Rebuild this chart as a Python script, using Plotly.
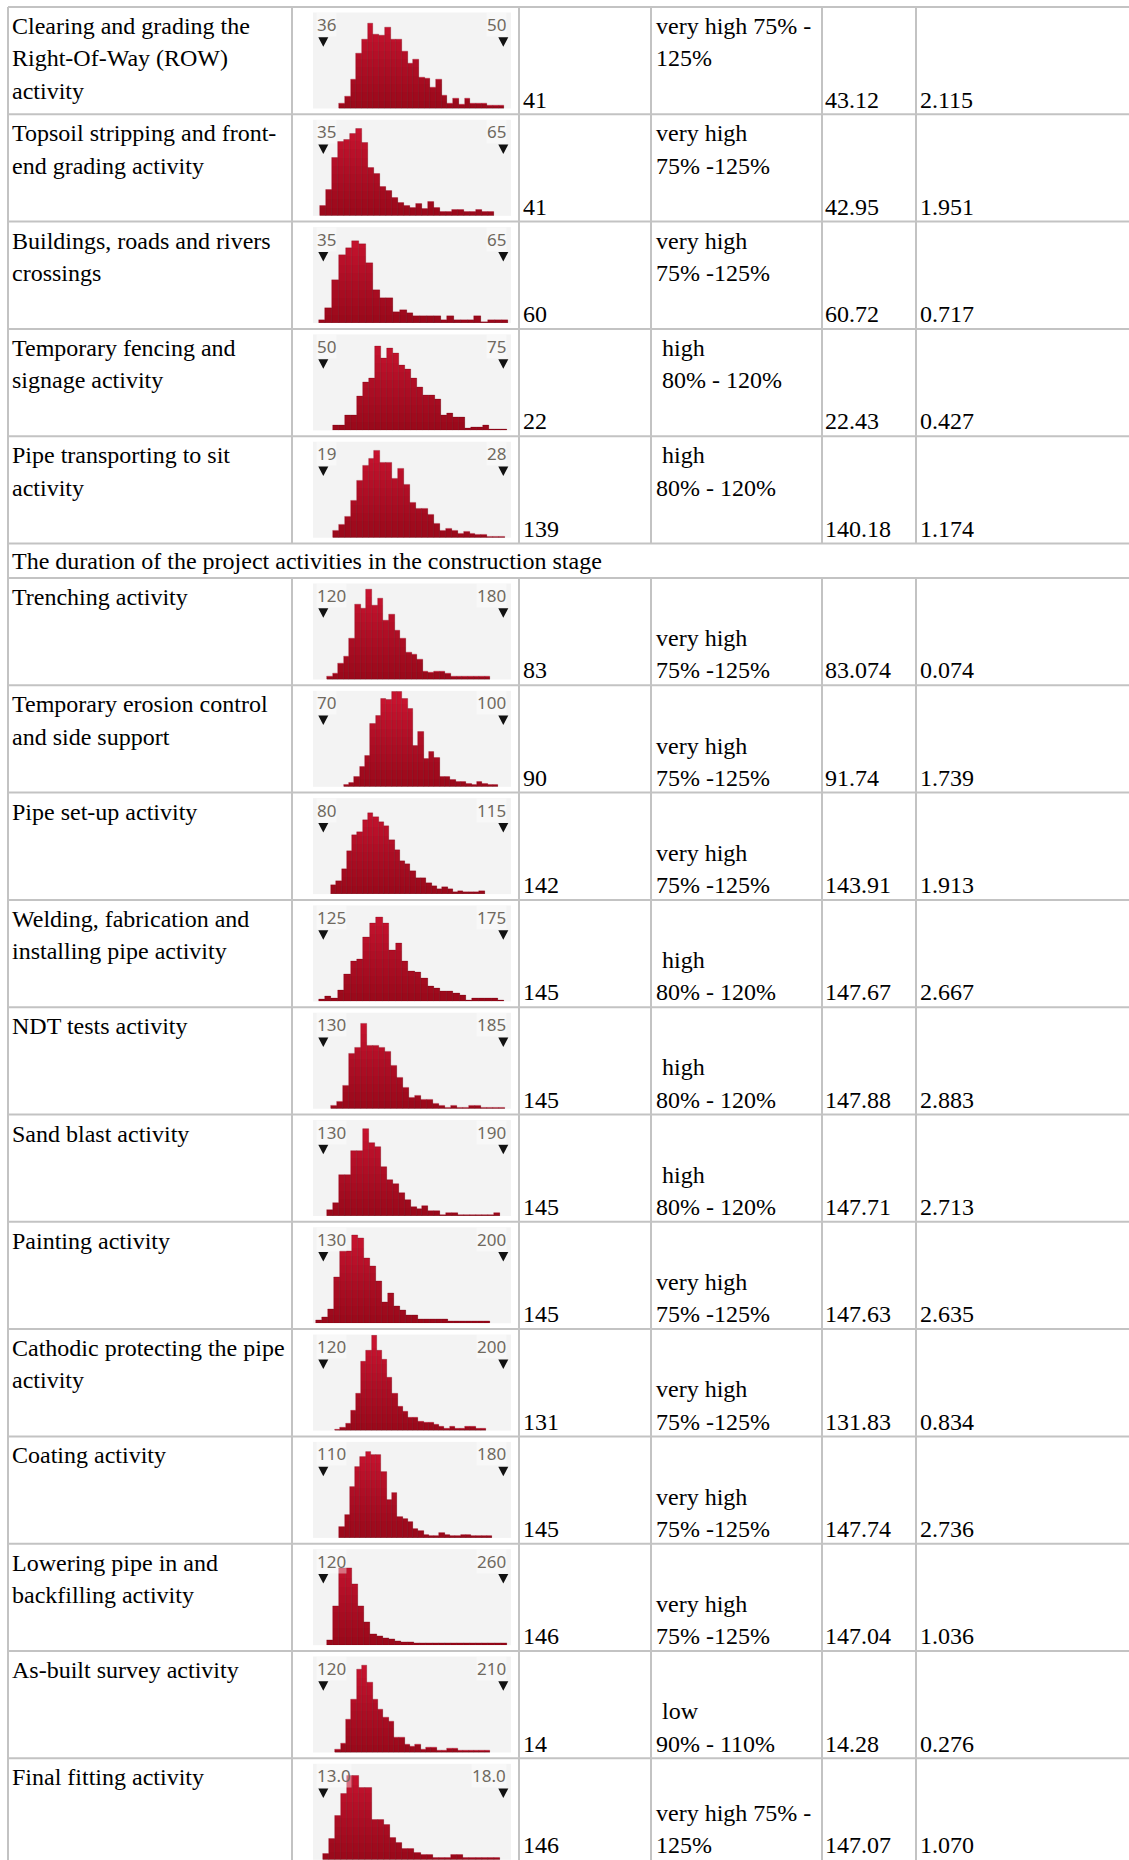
import plotly.graph_objects as go

# ---------------- data ----------------
ACTIVITIES = [
    ["Clearing and grading the", "Right-Of-Way (ROW)", "activity"],
    ["Topsoil stripping and front-", "end grading activity"],
    ["Buildings, roads and rivers", "crossings"],
    ["Temporary fencing and", "signage activity"],
    ["Pipe transporting to sit", "activity"],
    ["Trenching activity"],
    ["Temporary erosion control", "and side support"],
    ["Pipe set-up activity"],
    ["Welding, fabrication and", "installing pipe activity"],
    ["NDT tests activity"],
    ["Sand blast activity"],
    ["Painting activity"],
    ["Cathodic protecting the pipe", "activity"],
    ["Coating activity"],
    ["Lowering pipe in and", "backfilling activity"],
    ["As-built survey activity"],
    ["Final fitting activity"],
]
SECTION_TITLE = "The duration of the project activities in the construction stage"
SECTION_AFTER = 5

HIST_LO_LABEL = ["36", "35", "35", "50", "19", "120", "70", "80", "125", "130",
                 "130", "130", "120", "110", "120", "120", "13.0"]
HIST_HI_LABEL = ["50", "65", "65", "75", "28", "180", "100", "115", "175", "185",
                 "190", "200", "200", "180", "260", "210", "18.0"]
HIST_START = [37.24, 34.5, 34.2, 51.34, 19.48, 121.2, 73.39, 81.49, 123.7, 132.34,
              131.22, 127.28, 125.33, 116.22, 122.85, 126.0, 12.98]
HIST_BINW = [0.443, 1.0, 1.13, 0.833, 0.297, 1.88, 0.889, 1.03, 1.78, 1.83,
             1.99, 2.33, 2.31, 2.05, 4.83, 2.67, 0.170]
HIST_COUNTS = [
    [16, 35, 88, 166, 208, 254, 221, 218, 242, 208, 208, 171, 136, 148, 94, 89, 64, 88, 39, 16, 29, 11, 29, 16, 16, 16, 10, 10, 10],
    [30, 78, 173, 223, 228, 245, 261, 218, 143, 125, 88, 75, 53, 40, 30, 25, 36, 20, 43, 25, 11, 11, 18, 18, 11, 11, 18, 11, 11],
    [8, 45, 128, 203, 225, 247, 237, 180, 100, 75, 75, 33, 40, 30, 22, 22, 22, 22, 10, 22, 10, 10, 10, 22, 3, 10, 10, 10],
    [15, 15, 45, 45, 103, 145, 157, 253, 215, 247, 230, 195, 182, 157, 128, 105, 105, 92, 45, 52, 38, 38, 5, 8, 8, 15, 3, 3, 3],
    [22, 40, 64, 112, 170, 217, 237, 260, 224, 224, 177, 207, 160, 105, 87, 87, 70, 42, 22, 27, 22, 12, 17, 12, 10, 10, 4, 4, 4],
    [10, 17, 47, 70, 123, 225, 213, 270, 223, 242, 177, 195, 147, 123, 82, 75, 60, 23, 20, 23, 23, 17, 8, 8, 8, 8, 8, 8, 8],
    [5, 12, 30, 59, 94, 190, 212, 265, 260, 284, 284, 264, 235, 122, 165, 84, 105, 87, 30, 30, 22, 15, 15, 10, 5, 15, 10, 5, 5],
    [27, 40, 75, 130, 177, 185, 223, 242, 232, 217, 205, 163, 133, 100, 90, 70, 47, 47, 33, 25, 15, 22, 15, 5, 10, 5, 5, 5, 10],
    [5, 15, 8, 33, 80, 120, 125, 193, 235, 253, 235, 153, 175, 120, 90, 87, 70, 45, 40, 30, 30, 23, 17, 2, 8, 8, 8, 8, 2],
    [9, 20, 69, 164, 182, 254, 189, 189, 184, 170, 129, 92, 64, 34, 40, 27, 27, 15, 10, 4, 10, 4, 4, 10, 10, 4, 4, 4, 4],
    [17, 40, 124, 124, 195, 195, 260, 220, 207, 147, 107, 97, 69, 47, 27, 22, 29, 15, 15, 4, 10, 10, 4, 4, 4, 4, 4, 4, 10],
    [10, 18, 43, 137, 217, 217, 263, 255, 195, 170, 127, 63, 90, 50, 40, 25, 25, 13, 13, 13, 13, 13, 7, 7, 7, 7, 7, 7, 7],
    [4, 10, 22, 59, 110, 207, 239, 284, 239, 214, 160, 110, 72, 57, 40, 40, 27, 24, 24, 17, 12, 7, 12, 7, 7, 12, 12, 7, 7],
    [34, 70, 152, 212, 242, 259, 249, 249, 199, 115, 134, 62, 57, 47, 27, 22, 9, 5, 5, 15, 9, 5, 5, 9, 9, 5, 5, 5, 5],
    [16, 116, 230, 230, 183, 116, 70, 33, 28, 21, 18, 13, 10, 10, 5, 5, 5, 5, 5, 5, 5, 5, 5, 5, 5, 5, 5, 5, 5],
    [8, 28, 98, 158, 250, 261, 211, 158, 130, 105, 93, 46, 46, 23, 18, 23, 10, 16, 16, 6, 6, 11, 11, 6, 6, 6, 6, 6, 6],
    [19, 62, 132, 197, 252, 252, 215, 215, 120, 120, 105, 65, 52, 32, 32, 20, 14, 14, 7, 7, 7, 14, 14, 7, 7, 7, 7, 7, 7],
]
EXPECTED = ["41", "41", "60", "22", "139", "83", "90", "142", "145", "145",
            "145", "145", "131", "145", "146", "14", "146"]
RATING = [
    ["very high 75% -", "125%"],
    ["very high", "75% -125%"],
    ["very high", "75% -125%"],
    [" high", " 80% - 120%"],
    [" high", "80% - 120%"],
    ["very high", "75% -125%"],
    ["very high", "75% -125%"],
    ["very high", "75% -125%"],
    [" high", "80% - 120%"],
    [" high", "80% - 120%"],
    [" high", "80% - 120%"],
    ["very high", "75% -125%"],
    ["very high", "75% -125%"],
    ["very high", "75% -125%"],
    ["very high", "75% -125%"],
    [" low", "90% - 110%"],
    ["very high 75% -", "125%"],
]
MEAN = ["43.12", "42.95", "60.72", "22.43", "140.18", "83.074", "91.74", "143.91", "147.67",
        "147.88", "147.71", "147.63", "131.83", "147.74", "147.04", "14.28", "147.07"]
SD = ["2.115", "1.951", "0.717", "0.427", "1.174", "0.074", "1.739", "1.913", "2.667",
      "2.883", "2.713", "2.635", "0.834", "2.736", "1.036", "0.276", "1.070"]

# ---------------- geometry / style ----------------
W, H = 1129, 1860
COL_X = [8, 292, 519, 651, 822, 916]
TEXT_X = [10.5, None, 522, 655, 824, 919]
TABLE_TOP = 7
ROW_H = 107.3
SECTION_H = 34.5
PANEL_L, PANEL_R = 313, 511
PANEL_T, PANEL_B = 5.5, 101.5
TRI_L, TRI_R = 323.3, 503.3
Y_FULL = 288
LINE_GAP = 32.3
DESC = 7.0
SPACE_W = 5.8
BOTTOM_LIMIT = H - 1

TEXT_FONT = dict(family="'Liberation Serif', 'Times New Roman', serif", size=24, color="#000000")
LABEL_FONT = dict(family="'Noto Sans', 'DejaVu Sans', sans-serif", size=17, color="#6f695f")
LINE_COLOR = "#c3c3c3"
BAR_COLOR = "#c8132f"
SHADE = "rgba(70,0,12,0.04)"
SHADE_LEVELS = [250, 225, 200, 175, 150, 125, 100, 75, 50, 25]


def px(x):
    return x / W


def py(y):
    return 1 - y / H


def row_top(k):
    if k < SECTION_AFTER:
        return TABLE_TOP + k * ROW_H
    return TABLE_TOP + SECTION_AFTER * ROW_H + SECTION_H + (k - SECTION_AFTER) * ROW_H


annotations = []
shapes = []


def add_text(x, baseline, s, font=TEXT_FONT):
    if s.startswith(" "):
        x += SPACE_W
        s = s.strip()
    annotations.append(dict(x=px(x), y=py(baseline + DESC), xref="paper", yref="paper",
                            xanchor="left", yanchor="bottom", text=s, showarrow=False,
                            font=font, borderpad=0))


def hline(y, x0, x1):
    shapes.append(dict(type="line", xref="paper", yref="paper", x0=px(x0), x1=px(x1),
                       y0=py(y), y1=py(y), line=dict(color=LINE_COLOR, width=2)))


def vline(x, y0, y1):
    shapes.append(dict(type="line", xref="paper", yref="paper", x0=px(x), x1=px(x),
                       y0=py(y0), y1=py(y1), line=dict(color=LINE_COLOR, width=2)))


fig = go.Figure()
layout_axes = {}
n_rows = len(ACTIVITIES)
sec_top = TABLE_TOP + SECTION_AFTER * ROW_H
sec_bot = sec_top + SECTION_H
table_bottom = row_top(n_rows - 1) + ROW_H

# table grid
for k in range(n_rows):
    hline(row_top(k), COL_X[0], W + 5)
hline(sec_top, COL_X[0], W + 5)
hline(table_bottom, COL_X[0], W + 5)
vline(COL_X[0], TABLE_TOP, table_bottom)
for cx in COL_X[1:]:
    vline(cx, TABLE_TOP, sec_top)
    vline(cx, sec_bot, table_bottom)

# section title
add_text(TEXT_X[0], sec_top + 25, SECTION_TITLE)

for k in range(n_rows):
    R = row_top(k)
    for i, line in enumerate(ACTIVITIES[k]):
        add_text(TEXT_X[0], R + 26 + i * LINE_GAP, line)
    bottom_base = min(R + 99.5, BOTTOM_LIMIT - DESC)
    add_text(TEXT_X[2], bottom_base, EXPECTED[k])
    add_text(TEXT_X[4], bottom_base, MEAN[k])
    add_text(TEXT_X[5], bottom_base, SD[k])
    lines = RATING[k]
    if k < SECTION_AFTER:
        for i, line in enumerate(lines):
            add_text(TEXT_X[3], R + 26 + i * LINE_GAP, line)
    else:
        nl = len(lines)
        for i, line in enumerate(lines):
            add_text(TEXT_X[3], bottom_base - (nl - 1 - i) * LINE_GAP, line)

    # histogram
    n = k + 1
    xname = "x" if n == 1 else f"x{n}"
    yname = "y" if n == 1 else f"y{n}"
    xkey = "xaxis" if n == 1 else f"xaxis{n}"
    ykey = "yaxis" if n == 1 else f"yaxis{n}"
    lo = float(HIST_LO_LABEL[k])
    hi = float(HIST_HI_LABEL[k])
    unit = (hi - lo) / (TRI_R - TRI_L)
    xr = [lo - (TRI_L - PANEL_L) * unit, hi + (PANEL_R - TRI_R) * unit]
    counts = HIST_COUNTS[k]
    bw = HIST_BINW[k]
    xs = [HIST_START[k] + (i + 0.5) * bw for i in range(len(counts))]
    fig.add_trace(go.Bar(x=xs, y=counts, width=bw, xaxis=xname, yaxis=yname,
                         marker=dict(color=BAR_COLOR, line=dict(color="rgba(120,0,20,0.5)", width=0.6)),
                         showlegend=False, hoverinfo="skip"))
    for lvl in SHADE_LEVELS:
        fig.add_trace(go.Bar(x=xs, y=[min(c, lvl) for c in counts], width=bw,
                             xaxis=xname, yaxis=yname,
                             marker=dict(color=SHADE, line=dict(width=0)),
                             showlegend=False, hoverinfo="skip"))
    ybot = min(R + PANEL_B, H - 0.01)
    layout_axes[xkey] = dict(domain=[px(PANEL_L), px(PANEL_R)], range=xr, visible=False,
                             anchor=yname, fixedrange=True)
    layout_axes[ykey] = dict(domain=[py(ybot), py(R + PANEL_T)],
                             range=[0, Y_FULL * (ybot - R - PANEL_T) / (PANEL_B - PANEL_T)],
                             visible=False, anchor=xname, fixedrange=True)

    # range labels
    annotations.append(dict(x=px(TRI_L - 7.5), y=py(R + 17.5), xref="paper", yref="paper",
                            xanchor="left", yanchor="middle", text=HIST_LO_LABEL[k],
                            showarrow=False, font=LABEL_FONT, borderpad=0,
                            bgcolor="rgba(255,255,255,0.4)"))
    annotations.append(dict(x=px(TRI_R + 4), y=py(R + 17.5), xref="paper", yref="paper",
                            xanchor="right", yanchor="middle", text=HIST_HI_LABEL[k],
                            showarrow=False, font=LABEL_FONT, borderpad=0,
                            bgcolor="rgba(255,255,255,0.4)"))
    # range markers
    for cx in (TRI_L, TRI_R):
        pts = [(cx - 5, R + 30.3), (cx + 5, R + 30.3), (cx, R + 39.8)]
        path = "M " + " L ".join(f"{px(a):.6f},{py(b):.6f}" for a, b in pts) + " Z"
        shapes.append(dict(type="path", xref="paper", yref="paper", path=path,
                           fillcolor="#111111", line=dict(width=0)))

fig.update_layout(
    width=W, height=H,
    margin=dict(l=0, r=0, t=0, b=0),
    paper_bgcolor="#ffffff",
    plot_bgcolor="#f3f3f3",
    barmode="overlay",
    bargap=0,
    showlegend=False,
    annotations=annotations,
    shapes=shapes,
    **layout_axes,
)

fig.write_html("out.html", config={"displayModeBar": False})
